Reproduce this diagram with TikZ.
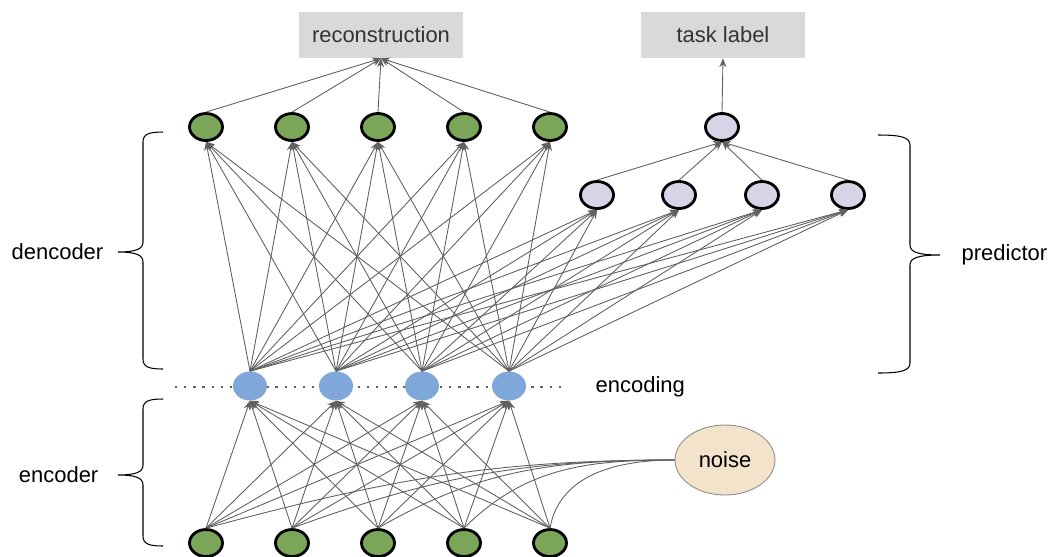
\documentclass[tikz,border=0pt]{standalone}
\usepackage{fontspec}
\setmainfont{Liberation Sans}
\usetikzlibrary{arrows.meta,shapes.geometric,positioning}

\definecolor{unitgreen}{HTML}{7BA65A}
\definecolor{unitblue}{HTML}{7FA7DA}
\definecolor{unitpurple}{HTML}{D9D3E8}
\definecolor{noisefill}{HTML}{F4E3CB}
\definecolor{boxgray}{HTML}{D9D9D9}
\definecolor{edgegray}{HTML}{606060}

\begin{document}
\begin{tikzpicture}[x=0.02cm,y=0.02cm,
        font=\fontsize{12.5}{15}\selectfont,
        unit/.style={ellipse,draw=black,line width=1.6pt,minimum width=0.66cm,minimum height=0.54cm,inner sep=0pt},
        gunit/.style={unit,fill=unitgreen},
        punit/.style={unit,fill=unitpurple},
        bunit/.style={ellipse,fill=unitblue,minimum width=0.68cm,minimum height=0.58cm,inner sep=0pt},
        outbox/.style={fill=boxgray,text=black!80,minimum width=3.28cm,minimum height=0.92cm},
        noisebox/.style={ellipse,fill=noisefill,draw=black!45,line width=0.5pt,minimum width=2cm,minimum height=1.4cm},
        edge/.style={draw=edgegray,line width=0.5pt},
        arr/.style={edge,-{Stealth[length=5pt,width=4pt]}},
        brc/.style={draw=black,line width=0.6pt},
        dots/.style={draw=edgegray,line width=1.3pt,dash pattern=on 1.3pt off 3.9pt}]
        \useasboundingbox (0,0) rectangle (1052,-556);

        \coordinate (dotl) at (175,-387);
        \coordinate (dotr) at (567,-387);
        \draw[dots] (dotl) -- (dotr);

        \foreach \x [count=\i] in {206,292,378,464,550} {
            \node[gunit] (in\i) at (\x,-543) {};
            \node[gunit] (out\i) at (\x,-127) {};
        }
        \foreach \x [count=\i] in {250,336,422,509}
            \node[bunit] (enc\i) at (\x,-386) {};
        \foreach \x [count=\i] in {597,679,762,848}
            \node[punit] (pred\i) at (\x,-195) {};
        \node[punit] (ptop) at (722,-127) {};

        \node[outbox] (rec) at (381,-35) {reconstruction};
        \node[outbox] (task) at (723,-35) {task label};
        \node[noisebox] (noise) at (725,-460) {noise};
        \node[right=0.45cm of dotr] (enclab) {encoding};

        \foreach \i in {1,...,5}
            \foreach \j in {1,...,4}
                \draw[arr] (in\i.north) -- (enc\j.south);
        \foreach \j in {1,...,4} {
            \foreach \i in {1,...,5}
                \draw[arr] (enc\j.north) -- (out\i.south);
            \foreach \k in {1,...,4}
                \draw[arr] (enc\j.north) -- (pred\k.south);
        }
        \foreach \k in {1,...,4}
            \draw[arr] (pred\k.north) -- (ptop.south);
        \foreach \i in {1,...,5}
            \draw[arr] (out\i.north) -- (rec.south);
        \draw[arr] (ptop.north) -- (task.south);

        \foreach \i/\a in {1/15,2/20,3/30,4/45,5/80}
            \draw[edge] (noise.west) to[out=180,in=\a] (in\i.north);

        \draw[brc] (163,-132) .. controls (149,-132) and (143,-134) .. (143,-142) -- (143,-242)
            .. controls (143,-249) and (136,-252) .. (118,-252) coordinate (dtip)
            .. controls (136,-252) and (143,-255) .. (143,-262) -- (143,-359)
            .. controls (143,-367) and (149,-369) .. (163,-369);
        \draw[brc] (163,-399) .. controls (149,-399) and (143,-401) .. (143,-409) -- (143,-465)
            .. controls (143,-472) and (136,-475) .. (118,-475) coordinate (etip)
            .. controls (136,-475) and (143,-478) .. (143,-485) -- (143,-536)
            .. controls (143,-544) and (149,-546) .. (163,-546);
        \draw[brc] (878,-135) .. controls (900,-135) and (910,-137) .. (910,-145) -- (910,-245)
            .. controls (910,-252) and (918,-255) .. (940,-255) coordinate (ptip)
            .. controls (918,-255) and (910,-258) .. (910,-265) -- (910,-363)
            .. controls (910,-371) and (900,-373) .. (878,-373);

        \node[left=0.17cm of dtip] (declab) {dencoder};
        \node[left=0.27cm of etip] (enclab2) {encoder};
        \node[right=0.31cm of ptip] (predlab) {predictor};
    \end{tikzpicture}
\end{document}
